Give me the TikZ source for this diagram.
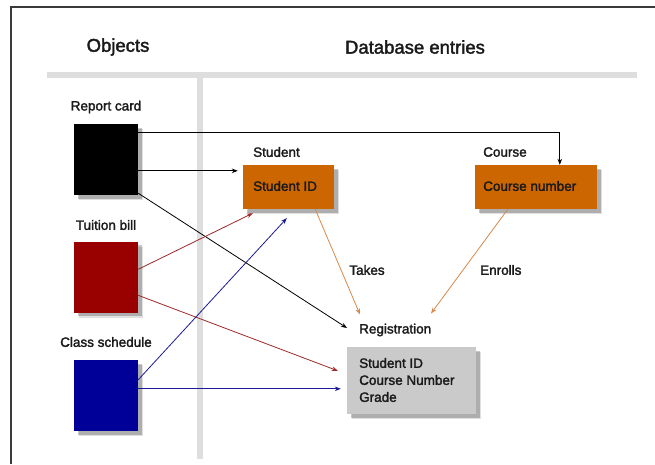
\documentclass[tikz,border=0pt]{standalone}
\usepackage{fontspec}
\setmainfont{Liberation Sans}[RawFeature={embolden=2}]
\usetikzlibrary{shadows,arrows.meta,calc}
\definecolor{frame}{HTML}{3A3A3A}
\definecolor{barg}{HTML}{DEDEDE}
\definecolor{objred}{HTML}{990000}
\definecolor{objblue}{HTML}{000099}
\definecolor{orbox}{HTML}{CC6600}
\definecolor{regbox}{HTML}{CACACA}
\definecolor{lnred}{HTML}{9E2A2A}
\definecolor{lnblue}{HTML}{1A1A99}
\definecolor{lnorange}{HTML}{D9894A}
\definecolor{txt}{HTML}{1A1A1A}
\tikzset{
  shad/.style={drop shadow={shadow xshift=5pt,shadow yshift=-5pt,fill=black,opacity=0.12},
               drop shadow={shadow xshift=3.5pt,shadow yshift=-3.5pt,fill=black,opacity=0.22}},
  objbox/.style={rectangle,minimum width=64pt,minimum height=71pt,inner sep=0pt,shad},
  entbox/.style={rectangle,fill=orbox,minimum height=44pt,inner sep=0pt,shad},
  lbl/.style={inner sep=0pt,text=txt,font=\fontsize{13.5}{16}\selectfont},
  head/.style={inner sep=0pt,text=txt,font=\fontsize{18.5}{22}\selectfont},
  conn/.style={line width=0.8pt,-{Stealth[length=6pt,width=4.5pt]}},
}
\begin{document}
\begin{tikzpicture}[x=1pt,y=-1pt]
\useasboundingbox (0,0) rectangle (655,464);
\fill[white] (0,0) rectangle (655,464);
% frame
\draw[frame,line width=1.4pt] (655,7) -- (11,7) -- (11,464);
% header bars
\fill[barg] (47,72) rectangle (637,78);
\fill[barg] (197,78) rectangle (203,459);
\node[head] (hobj) at (118,47) {Objects};
\node[head] (hdb) at (415,47) {Database entries};
% objects
\node[lbl] (lrc) at (106,107) {Report card};
\node[objbox,fill=black] (rc) at (106,159.5) {};
\node[lbl] (ltb) at (106,225) {Tuition bill};
\node[objbox,fill=objred] (tb) at (106,277) {};
\node[lbl] (lcs) at (106,342) {Class schedule};
\node[objbox,fill=objblue] (cs) at (106,395.5) {};
% entities
\node[lbl,anchor=west] (lst) at (253,152) {Student};
\node[entbox,minimum width=91pt] (sid) at (288.5,187) {};
\node[lbl,anchor=west] (tsid) at (253,186) {Student ID};
\node[lbl,anchor=west] (lco) at (483,152) {Course};
\node[entbox,minimum width=122pt] (cn) at (536,187) {};
\node[lbl,anchor=west] (tcn) at (483,186) {Course number};
\node[lbl,anchor=west] (lreg) at (359,330) {Registration};
\node[rectangle,fill=regbox,minimum width=129pt,minimum height=67pt,inner sep=0pt,shad] (reg) at (411.5,380.5) {};
\node[lbl,anchor=west,align=left,font=\fontsize{13.5}{17}\selectfont] (treg) at (359,380) {Student ID\\Course Number\\Grade};
\node[lbl] (ltakes) at (367,270) {Takes};
\node[lbl,anchor=west] (lenr) at (480,270) {Enrolls};
% connectors
\draw[conn,black] ($(rc.north east)+(0,9)$) -| ($(cn.north west)+(85,0)$);
\draw[conn,black] ($(rc.north east)+(0,47)$) -- ($(sid.north west)+(-5,6)$);
\draw[conn,black] ($(rc.south east)+(0,-2)$) -- ($(lreg.west)+(-12,-2)$);
\draw[conn,lnred] ($(tb.north east)+(0,28)$) -- ($(sid.south west)+(10,4)$);
\draw[conn,lnred] ($(tb.north east)+(0,54)$) -- ($(reg.north west)+(-9,24)$);
\draw[conn,lnblue] ($(cs.north east)+(0,20)$) -- ($(sid.south west)+(44,9)$);
\draw[conn,lnblue] ($(cs.north east)+(0,29)$) -- ($(reg.north west)+(-6,42)$);
\draw[conn,lnorange] ($(sid.south east)+(-19,0)$) -- ($(lreg.north west)+(1,-9)$);
\draw[conn,lnorange] ($(cn.south west)+(33,0)$) -- ($(lreg.north west)+(72,-10)$);
\end{tikzpicture}
\end{document}
